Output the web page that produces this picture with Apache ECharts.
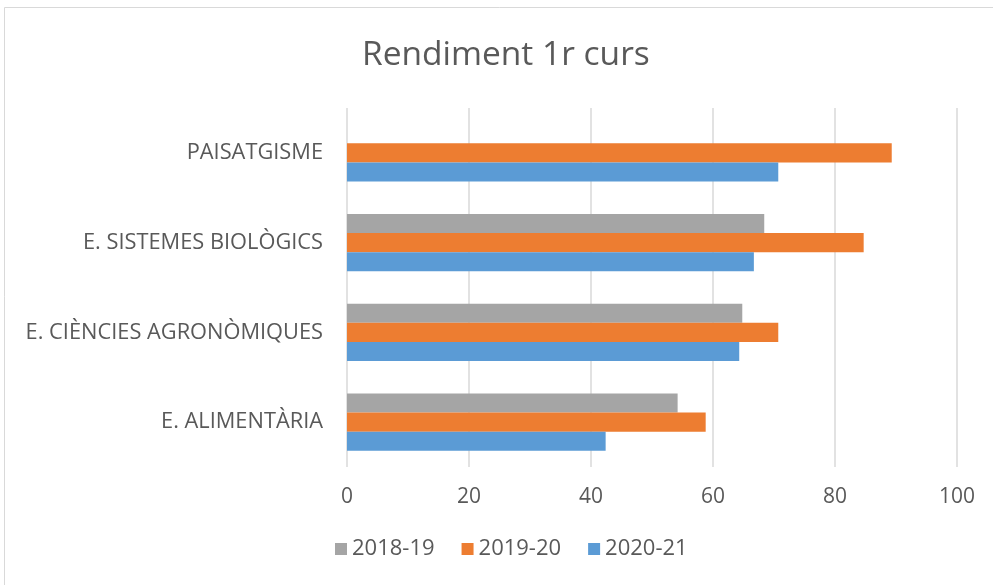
<!DOCTYPE html>
<html>
<head>
<meta charset="utf-8">
<script src="https://cdn.jsdelivr.net/npm/echarts@6/dist/echarts.min.js"></script>
<style>
html,body{margin:0;padding:0;background:#fff;}
#main{width:993px;height:585px;}
</style>
</head>
<body>
<div id="main"></div>
<script>
var categories = ['E. ALIMENTÀRIA', 'E. CIÈNCIES AGRONÒMIQUES', 'E. SISTEMES BIOLÒGICS', 'PAISATGISME'];
var years = ['2018-19', '2019-20', '2020-21'];
var values1819 = [54.2, 64.8, 68.4, null];
var values1920 = [58.8, 70.7, 84.7, 89.3];
var values2021 = [42.4, 64.3, 66.7, 70.7];
var xTicks = [0, 20, 40, 60, 80, 100];

var myChart = echarts.init(document.getElementById('main'));
var txt = '#595959';
var font = 'Open Sans';

var option = {
    animation: false,
    graphic: [{
        type: 'rect',
        shape: {x: 4.5, y: 7.5, width: 1000, height: 600},
        style: {fill: 'none', stroke: '#d9d9d9', lineWidth: 1}
    }],
    title: {
        text: 'Rendiment 1r curs',
        left: 357,
        top: 33,
        textStyle: {color: txt, fontSize: 33.5, fontWeight: 'normal', fontFamily: font}
    },
    legend: {
        data: years,
        bottom: 20,
        left: 330,
        itemWidth: 12,
        itemHeight: 12,
        itemGap: 27,
        icon: 'rect',
        textStyle: {color: txt, fontSize: 22, fontFamily: font}
    },
    grid: {left: 347, right: 36, top: 108, bottom: 118},
    xAxis: {
        type: 'value',
        min: xTicks[0],
        max: xTicks[xTicks.length - 1],
        interval: 20,
        axisLine: {show: false},
        axisTick: {show: false},
        axisLabel: {color: txt, fontSize: 21, fontFamily: font, margin: 20},
        splitLine: {lineStyle: {color: '#d9d9d9', width: 1.5}}
    },
    yAxis: {
        type: 'category',
        data: categories,
        axisLine: {show: false},
        axisTick: {show: false},
        axisLabel: {color: txt, fontSize: 21.8, fontFamily: font, margin: 24}
    },
    series: [
        {name: '2018-19', type: 'bar', data: values1819, itemStyle: {color: '#a5a5a5'}, barGap: '0%', barCategoryGap: '36%'},
        {name: '2019-20', type: 'bar', data: values1920, itemStyle: {color: '#ed7d31'}, barGap: '0%', barCategoryGap: '36%'},
        {name: '2020-21', type: 'bar', data: values2021, itemStyle: {color: '#5b9bd5'}, barGap: '0%', barCategoryGap: '36%'}
    ]
};
myChart.setOption(option);
</script>
</body>
</html>
